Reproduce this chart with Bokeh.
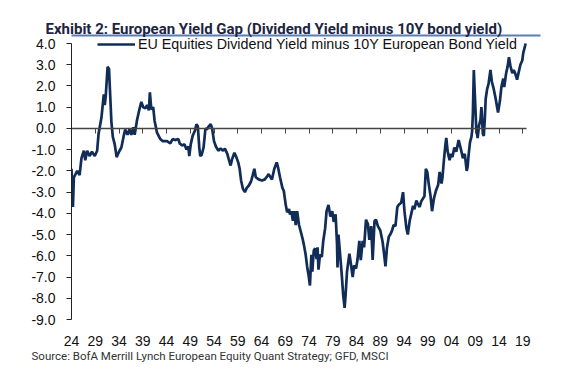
from bokeh.plotting import figure
from bokeh.models import (FixedTicker, LinearAxis, NumeralTickFormatter, Title,
                          Legend, LegendItem, Range1d)
from bokeh.embed import file_html
from bokeh.resources import INLINE

# ---- data ----
years = [1924.0, 1924.3, 1924.5, 1925.2, 1925.7, 1926.1, 1926.6, 1926.9, 1927.3, 1927.8,
         1928.3, 1928.9, 1929.4, 1929.7, 1930.3, 1930.8, 1931.0, 1931.2, 1931.6, 1931.9,
         1932.1, 1932.4, 1932.7, 1933.1, 1933.5, 1934.0, 1934.5, 1935.0, 1935.3, 1935.8,
         1936.2, 1936.6, 1937.0, 1937.3, 1937.8, 1938.3, 1938.7, 1939.1, 1939.6, 1939.9,
         1940.3, 1940.5, 1940.8, 1941.2, 1941.5, 1942.0, 1942.7, 1943.2, 1944.1, 1944.8,
         1945.3, 1945.8, 1946.5, 1946.8, 1947.3, 1947.8, 1948.2, 1948.6, 1948.8, 1949.1,
         1949.5, 1950.0, 1950.3, 1950.6, 1950.9, 1951.1, 1951.4, 1951.8, 1952.2, 1952.5,
         1952.9, 1953.3, 1953.6, 1954.0, 1954.4, 1954.9, 1955.4, 1955.9, 1956.3, 1956.8,
         1957.1, 1957.5, 1957.8, 1958.3, 1958.7, 1959.1, 1959.4, 1959.7, 1960.1, 1960.5,
         1960.9, 1961.3, 1961.8, 1962.1, 1962.5, 1962.8, 1963.4, 1964.1, 1964.7, 1965.2,
         1965.5, 1965.9, 1966.2, 1966.7, 1967.2, 1967.5, 1967.9, 1968.4, 1968.7, 1969.1,
         1969.4, 1969.8, 1970.0, 1970.3, 1970.6, 1970.9, 1971.2, 1971.5, 1971.9, 1972.2,
         1972.6, 1972.9, 1973.3, 1973.6, 1973.9, 1974.2, 1974.5, 1974.7, 1975.0, 1975.3,
         1975.6, 1975.8, 1976.0, 1976.3, 1976.7, 1977.0, 1977.4, 1977.7, 1978.1, 1978.5,
         1978.9, 1979.2, 1979.6, 1979.9, 1980.0, 1980.2, 1980.5, 1980.9, 1981.2, 1981.5,
         1981.7, 1982.0, 1982.5, 1982.8, 1983.2, 1983.5, 1983.9, 1984.2, 1984.6, 1984.9,
         1985.3, 1985.6, 1986.0, 1986.4, 1986.7, 1987.1, 1987.4, 1987.8, 1988.1, 1988.5,
         1989.0, 1989.5, 1989.8, 1990.1, 1990.4, 1990.8, 1991.1, 1991.5, 1991.8, 1992.2,
         1992.6, 1992.9, 1993.4, 1993.6, 1993.8, 1994.1, 1994.5, 1994.8, 1995.2, 1995.5,
         1995.9, 1996.2, 1996.6, 1996.9, 1997.3, 1997.6, 1998.0, 1998.3, 1998.6, 1998.9,
         1999.2, 1999.6, 1999.9, 2000.3, 2000.7, 2001.2, 2001.5, 2001.9, 2002.1, 2002.4,
         2002.7, 2002.9, 2003.2, 2003.6, 2003.9, 2004.2, 2004.6, 2005.0, 2005.5, 2006.0,
         2006.4, 2006.8, 2007.2, 2007.4, 2007.6, 2007.9, 2008.2, 2008.35, 2008.5, 2008.7,
         2008.9, 2009.2, 2009.5, 2009.8, 2010.1, 2010.3, 2010.6, 2010.8, 2011.0, 2011.2,
         2011.5, 2011.8, 2012.2, 2012.5, 2012.9, 2013.3, 2013.6, 2013.8, 2014.2, 2014.5,
         2014.9, 2015.1, 2015.5, 2015.8, 2016.1, 2016.4, 2016.8, 2017.1, 2017.4, 2017.8,
         2018.2, 2018.5, 2018.9, 2019.1, 2019.5, 2019.6]
yield_gap = [-1.9, -3.7, -2.3, -2.0, -2.2, -1.4, -1.05, -1.5, -1.05, -1.3,
             -1.1, -1.3, -1.05, -0.25, 0.5, 1.6, 1.1, 1.5, 2.9, 2.8,
             1.8, 0.3, -0.4, -0.75, -1.35, -1.1, -0.9, -0.35, -0.05, -0.3,
             -0.05, -0.3, 0.05, -0.3, 0.4, 0.9, 1.25, 1.0, 0.95, 1.1,
             0.85, 1.7, 0.9, 1.0, 0.35, -0.2, -0.5, -0.6, -0.6, -0.7,
             -0.5, -0.55, -0.5, -0.72, -0.8, -0.75, -1.0, -0.85, -1.3, -0.75,
             -0.35, -0.1, 0.2, 0.1, -0.9, -1.3, -1.25, -0.9, 0.0, -0.05,
             0.1, 0.2, 0.0, -0.6, -0.85, -1.05, -0.95, -1.05, -0.95, -1.2,
             -1.45, -1.75, -1.45, -1.15, -1.35, -1.6, -1.9, -2.45, -2.85, -3.0,
             -2.8, -2.7, -2.5, -2.25, -1.9, -2.3, -2.4, -2.45, -2.4, -2.25,
             -2.15, -2.3, -2.4, -1.9, -1.6, -1.85, -2.3, -2.8, -2.95, -3.6,
             -3.95, -3.8, -4.05, -3.9, -4.35, -3.9, -4.55, -3.9, -4.55, -4.8,
             -5.15, -5.45, -5.95, -6.5, -6.9, -7.4, -5.95, -6.75, -5.75, -5.65,
             -6.15, -5.6, -6.65, -5.95, -6.05, -5.3, -4.7, -3.9, -3.6, -4.15,
             -3.9, -4.4, -4.05, -5.45, -6.55, -5.0, -5.8, -6.9, -7.85, -8.45,
             -7.85, -6.75, -5.9, -6.35, -7.0, -6.45, -6.6, -6.2, -5.3, -6.2,
             -5.3, -5.6, -4.3, -4.5, -5.25, -4.6, -6.2, -4.35, -4.3, -4.6,
             -4.8, -5.35, -5.9, -6.5, -5.65, -5.1, -5.0, -4.8, -4.55, -4.6,
             -3.7, -3.6, -3.5, -3.25, -3.0, -3.9, -4.7, -5.0, -4.35, -4.05,
             -3.65, -3.8, -3.4, -3.55, -3.7, -3.45, -3.3, -3.2, -1.9, -2.05,
             -2.6, -3.2, -3.9, -3.3, -2.95, -2.65, -2.05, -2.6, -2.3, -1.5,
             -0.8, -0.45, -1.1, -1.5, -1.2, -1.35, -0.9, -1.1, -0.55, -1.0,
             -1.4, -1.2, -2.0, -1.8, -1.25, -0.65, -0.4, -0.1, 0.7, 2.75,
             1.65, 0.05, -0.45, 0.15, 0.4, 1.0, -0.25, -0.35, 0.4, 1.4,
             1.85, 2.1, 2.75, 2.2, 1.85, 1.4, 1.0, 0.75, 1.3, 1.95,
             2.35, 1.95, 2.6, 2.9, 3.35, 2.95, 2.6, 2.75, 2.6, 2.3,
             2.7, 3.0, 3.2, 3.55, 3.9, 4.0]

x_tick_years = [1924, 1929, 1934, 1939, 1944, 1949, 1954, 1959, 1964, 1969,
                1974, 1979, 1984, 1989, 1994, 1999, 2004, 2009, 2014, 2019]
x_tick_labels = ["24", "29", "34", "39", "44", "49", "54", "59", "64", "69",
                 "74", "79", "84", "89", "94", "99", "04", "09", "14", "19"]
y_ticks = [4, 3, 2, 1, 0, -1, -2, -3, -4, -5, -6, -7, -8, -9]

title_text = "Exhibit 2: European Yield Gap (Dividend Yield  minus 10Y  bond yield)"
legend_text = "EU Equities Dividend Yield minus 10Y European Bond Yield"
source_text = "Source:  BofA Merrill Lynch European Equity Quant  Strategy; GFD, MSCI"

NAVY = "#102c57"
RULE_BLUE = "#5b7db3"
PX_PER_UNIT = 276 / 13.0
PX_PER_YEAR = 4.75
FRAME_TOP = 35

p = figure(width=570, height=383, output_backend="svg", toolbar_location=None,
           x_range=Range1d(1924, 1924 + 469 / PX_PER_YEAR),
           y_range=Range1d(-9, 4 + (43 - FRAME_TOP) / PX_PER_UNIT),
           min_border_left=71, min_border_right=30, min_border_top=FRAME_TOP,
           min_border_bottom=64)
p.outline_line_color = None
p.xgrid.visible = False
p.ygrid.visible = False
p.title.visible = False

line = p.line(years, yield_gap, line_color=NAVY, line_width=2.7)

# y axis
ya = p.yaxis[0]
ya.ticker = FixedTicker(ticks=y_ticks, minor_ticks=[])
ya.formatter = NumeralTickFormatter(format="0.0")
ya.bounds = (-9, 4)
ya.axis_line_color = "#222222"
ya.major_tick_line_color = "#222222"
ya.major_tick_out = 5
ya.major_tick_in = 0
ya.minor_tick_line_color = None
ya.major_label_standoff = 11
ya.major_label_text_font = "Liberation Sans"
ya.major_label_text_font_size = "14px"
ya.major_label_text_color = "#111111"

# bottom axis: labels only
xa = p.xaxis[0]
xa.ticker = FixedTicker(ticks=x_tick_years, minor_ticks=[])
xa.major_label_overrides = {float(t): l for t, l in zip(x_tick_years, x_tick_labels)}
xa.axis_line_color = None
xa.major_tick_line_color = None
xa.minor_tick_line_color = None
xa.major_tick_out = 0
xa.major_label_standoff = 16
xa.major_label_text_font = "Liberation Sans"
xa.major_label_text_font_size = "14px"
xa.major_label_text_color = "#111111"

# zero line with ticks
za = LinearAxis(fixed_location=0, ticker=FixedTicker(ticks=x_tick_years, minor_ticks=[]),
                bounds=(1924, 1924 + (526 - 71) / PX_PER_YEAR))
za.axis_line_color = "#444444"
za.axis_line_width = 1.3
za.major_tick_line_color = "#444444"
za.major_tick_out = 5
za.major_tick_in = 0
za.minor_tick_line_color = None
za.major_label_standoff = 0
za.major_label_text_color = None
za.major_label_text_font_size = "1px"
p.add_layout(za, "below")

# empty spacer axis: only pushes the source line down below the tick labels
spacer = LinearAxis(ticker=FixedTicker(ticks=[], minor_ticks=[]))
spacer.axis_line_color = None
spacer.major_tick_line_color = None
spacer.minor_tick_line_color = None
spacer.major_tick_out = 10
spacer.major_tick_in = 0
spacer.major_label_standoff = 0
spacer.major_label_text_color = None
spacer.major_label_text_font_size = "1px"
p.add_layout(spacer, "below")

# blue rule under the title (axis line only)
rule = LinearAxis(ticker=FixedTicker(ticks=[], minor_ticks=[]))
rule.axis_line_color = RULE_BLUE
rule.axis_line_width = 2
rule.major_tick_line_color = None
rule.minor_tick_line_color = None
rule.major_tick_out = 0
rule.major_label_standoff = 0
rule.major_label_text_color = None
rule.major_label_text_font_size = "1px"
p.add_layout(rule, "above")

# title
p.add_layout(Title(text=title_text, align="left", offset=-26, standoff=-5,
                   text_font="Roboto", text_font_style="bold",
                   text_font_size="15px", text_color="#1c2541"), "above")

# source
p.add_layout(Title(text=source_text, align="left", offset=-40, standoff=0,
                   vertical_align="top",
                   text_font="Roboto", text_font_style="normal",
                   text_font_size="11.5px", text_color="#333333"), "below")

legend = Legend(items=[LegendItem(label=legend_text, renderers=[line])],
                location=(26, 267), padding=0, margin=0, spacing=0,
                glyph_width=38, glyph_height=16, label_height=16, label_standoff=3,
                background_fill_alpha=0, border_line_color=None,
                label_text_font="Liberation Sans", label_text_font_size="14.3px",
                label_text_color="#111111")
p.add_layout(legend, "center")

open("out.html", "w").write(file_html(p, INLINE))
